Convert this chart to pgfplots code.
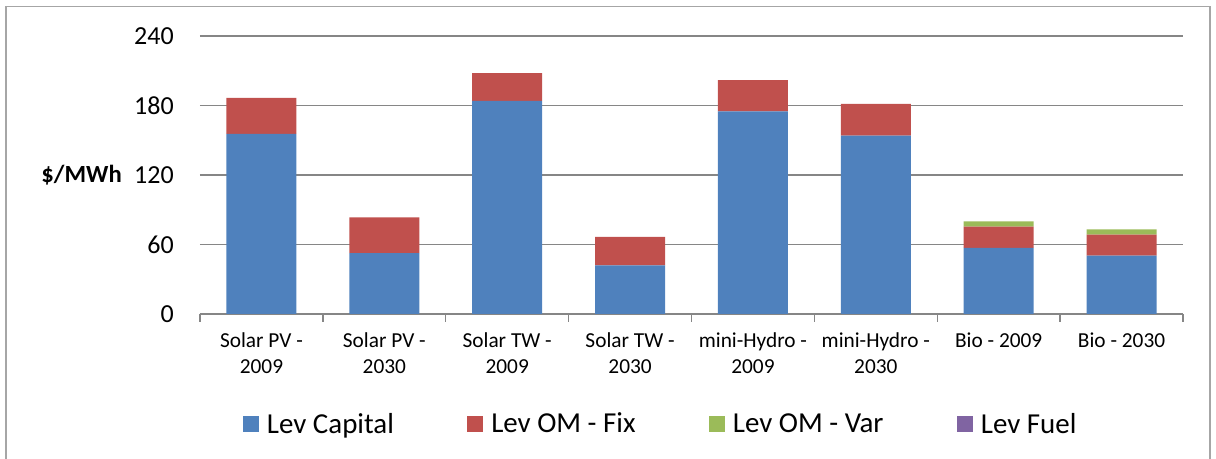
\documentclass[border=0pt]{standalone}
\usepackage{fontspec}
\setmainfont{Carlito}
\usepackage{pgfplots}
\pgfplotsset{compat=1.18}
\definecolor{cblue}{HTML}{4F81BD}
\definecolor{cred}{HTML}{C0504D}
\definecolor{cgreen}{HTML}{9BBB59}
\definecolor{cpurple}{HTML}{8064A2}
\definecolor{gridgray}{HTML}{868686}
\begin{document}
\begin{tikzpicture}
\path[use as bounding box] (-150pt,-108.75pt) rectangle (762pt,235.5pt);
\draw[gray!70, line width=1pt] (-145.5pt,-112pt) -- (-145.5pt,230.6pt) -- (757.5pt,230.6pt) -- (757.5pt,-112pt);
\begin{axis}[
  at={(0pt,0pt)}, anchor=south west,
  scale only axis,
  width=737.25pt, height=208.5pt,
  ybar stacked,
  bar width=52.5pt,
  xmin=-0.5, xmax=7.5,
  ymin=0, ymax=240,
  ytick={0,60,120,180,240},
  xtick={0,...,7},
  xticklabels={{Solar PV -\\2009},{Solar PV -\\2030},{Solar TW -\\2009},{Solar TW -\\2030},{mini-Hydro -\\2009},{mini-Hydro -\\2030},{Bio - 2009},{Bio - 2030}},
  minor xtick={-0.5,0.5,...,7.5},
  major tick length=0pt,
  minor tick length=6pt,
  tick align=outside,
  minor tick style={gridgray, line width=1pt},
  axis lines*=left,
  y axis line style={draw=none},
  x axis line style={gridgray, line width=1.3pt},
  ymajorgrids,
  grid style={gridgray, line width=1.3pt},
  /pgf/number format/assume math mode=true,
  yticklabel style={font=\fontsize{19.5}{24}\selectfont, anchor=east, inner sep=0pt, xshift=-19.5pt},
  xticklabel style={font=\fontsize{16}{19.5}\selectfont, align=center, anchor=north, inner sep=0pt, yshift=-14pt},
  legend columns=4,
  legend style={draw=none, at={(0.469,-0.3957)}, anchor=center, font=\fontsize{21.7}{26}\selectfont,
    /tikz/every odd column/.append style={column sep=4pt},
    /tikz/every even column/.append style={column sep=53pt}},
  legend image code/.code={\fill[#1] (0pt,-6pt) rectangle (12pt,6pt);},
]
\addplot[fill=cblue, draw=none] coordinates {(0,155.5) (1,52.5) (2,184) (3,42) (4,175) (5,154) (6,57) (7,50.5)};
\addplot[fill=cred, draw=none] coordinates {(0,31) (1,31) (2,24) (3,24.5) (4,27) (5,27.5) (6,18.5) (7,18)};
\addplot[fill=cgreen, draw=none] coordinates {(0,0) (1,0) (2,0) (3,0) (4,0) (5,0) (6,4.5) (7,4.5)};
\addplot[fill=cpurple, draw=none] coordinates {(0,0) (1,0) (2,0) (3,0) (4,0) (5,0) (6,0) (7,0)};
\legend{Lev Capital, Lev OM - Fix, Lev OM - Var, Lev Fuel}
\end{axis}
\node[anchor=east, font=\bfseries\fontsize{18.5}{22}\selectfont, inner sep=0pt] at (-58.5pt,104.25pt) {\$/MWh};
\end{tikzpicture}
\end{document}
